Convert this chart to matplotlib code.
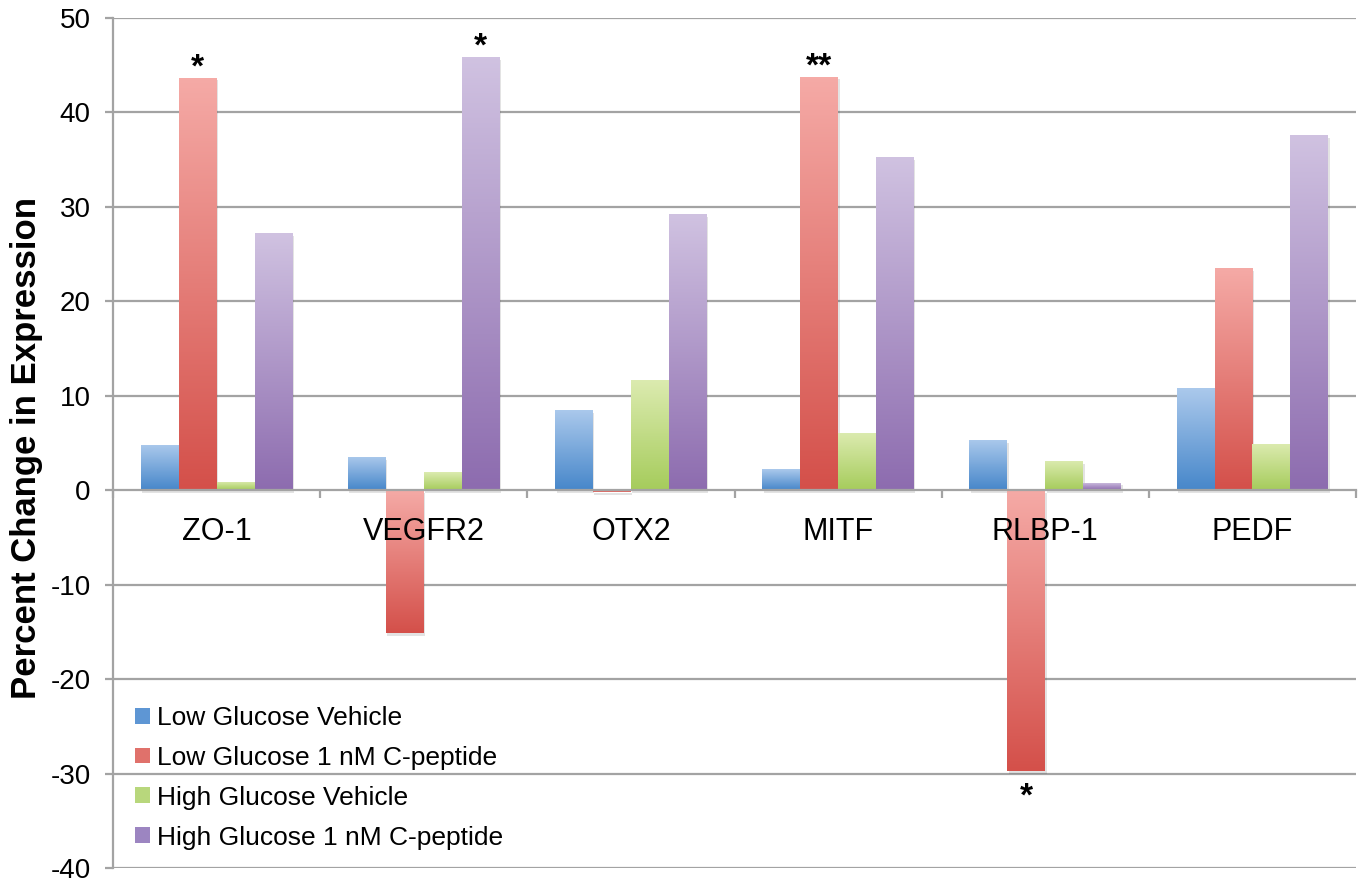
"""Percent change in expression by gene and treatment"""
import numpy as np
import matplotlib
matplotlib.use('Agg')
import matplotlib.pyplot as plt
import matplotlib.patheffects as pe
from matplotlib.colors import LinearSegmentedColormap
from matplotlib.patches import Patch

plt.rcParams['font.family'] = ['Liberation Sans', 'DejaVu Sans']
plt.rcParams['axes.unicode_minus'] = False

# DATA
genes = ['ZO-1', 'VEGFR2', 'OTX2', 'MITF', 'RLBP-1', 'PEDF']
series = ['Low Glucose Vehicle', 'Low Glucose 1 nM C-peptide',
          'High Glucose Vehicle', 'High Glucose 1 nM C-peptide']
low_vehicle = [4.8, 3.5, 8.5, 2.2, 5.3, 10.8]
low_cpeptide = [43.7, -15.1, -0.2, 43.8, -29.7, 23.5]
high_vehicle = [0.9, 1.9, 11.7, 6.1, 3.1, 4.9]
high_cpeptide = [27.2, 45.9, 29.2, 35.3, 0.8, 37.6]
# (gene index, series index, mark)
sig_marks = [(0, 1, '*'), (1, 3, '*'), (3, 1, '**'), (4, 1, '*')]
y_ticks = list(range(-40, 51, 10))

# STYLE
light = ['#abc9ec', '#f5aaa6', '#dcebb0', '#d0c2e1']
dark = ['#4787ca', '#d4504a', '#a6cc5c', '#8d6caf']
mid = ['#5e96d4', '#e0716b', '#b8d77c', '#9c85c1']
GRID = '#a3a3a3'


def draw_bar(ax, x, width, value, k):
    """Bar with a vertical light-to-dark gradient and a soft shadow"""
    bar = ax.bar(x, value, width, color=mid[k], zorder=1, linewidth=0)[0]
    bar.set_path_effects([pe.SimplePatchShadow(offset=(1, -2), alpha=0.15,
                                               shadow_rgbFace='#444444'),
                          pe.Normal()])
    cmap = LinearSegmentedColormap.from_list('g%d' % k, [light[k], dark[k]])
    grad = np.linspace(0, 1, 128).reshape(-1, 1)
    im = ax.imshow(grad, cmap=cmap, aspect='auto', origin='upper',
                   extent=[x - width / 2, x + width / 2, min(0, value), max(0, value)],
                   zorder=1.1, interpolation='bicubic')
    im.set_clip_path(bar)


fig = plt.figure(figsize=(13.6, 8.84), dpi=100)
ax = fig.add_axes([0.0831, 0.0181, 0.914, 0.9615])

all_series = [low_vehicle, low_cpeptide, high_vehicle, high_cpeptide]
x = np.arange(len(genes))
width = 0.183
for k, vals in enumerate(all_series):
    for i, v in enumerate(vals):
        draw_bar(ax, x[i] + (k - 1.5) * width, width, v, k)

# significance marks
for i, k, mark in sig_marks:
    v = all_series[k][i]
    xpos = x[i] + (k - 1.5) * width
    if v >= 0:
        ax.text(xpos, v - 0.6, mark, ha='center', va='bottom', fontsize=24,
                fontweight='bold', zorder=5)
    else:
        ax.text(xpos, v - 1.2, mark, ha='center', va='top', fontsize=24,
                fontweight='bold', zorder=5)

# gridlines behind the bars
for t in y_ticks:
    if t != 0:
        ax.axhline(t, color=GRID, lw=1.6, zorder=0)

ax.set_xlim(-0.5, len(genes) - 0.5)
ax.set_ylim(-40, 50)
ax.set_yticks(y_ticks)
ax.set_xticks(x)
ax.set_xticklabels(genes)
ax.set_xticks(np.arange(-0.5, len(genes)), minor=True)

for s in ['top', 'right']:
    ax.spines[s].set_visible(False)
ax.spines['left'].set_color(GRID)
ax.spines['left'].set_linewidth(1.6)
ax.spines['bottom'].set_position(('data', 0))
ax.spines['bottom'].set_color(GRID)
ax.spines['bottom'].set_linewidth(1.6)

ax.tick_params(axis='y', direction='out', length=6, width=1.6, color=GRID,
               labelsize=20, pad=10)
ax.tick_params(axis='x', which='major', length=0, labelsize=22, pad=19)
ax.tick_params(axis='x', which='minor', direction='out', length=6, width=1.6,
               color=GRID)
for lab in ax.get_xticklabels():
    lab.set_zorder(6)

ax.set_ylabel('Percent Change in Expression', fontsize=25, fontweight='bold')
ax.yaxis.set_label_coords(-0.056, 0.494)

handles = [Patch(facecolor=mid[k], edgecolor='none') for k in range(4)]
fig.legend(handles, series, loc='upper left', bbox_to_anchor=(135 / 1360, 1 - 706 / 884),
           frameon=False, fontsize=19, handlelength=0.55, handleheight=0.55,
           handletextpad=0.3, labelspacing=0.6, borderpad=0, borderaxespad=0)

fig.savefig('out.png', dpi=100)
